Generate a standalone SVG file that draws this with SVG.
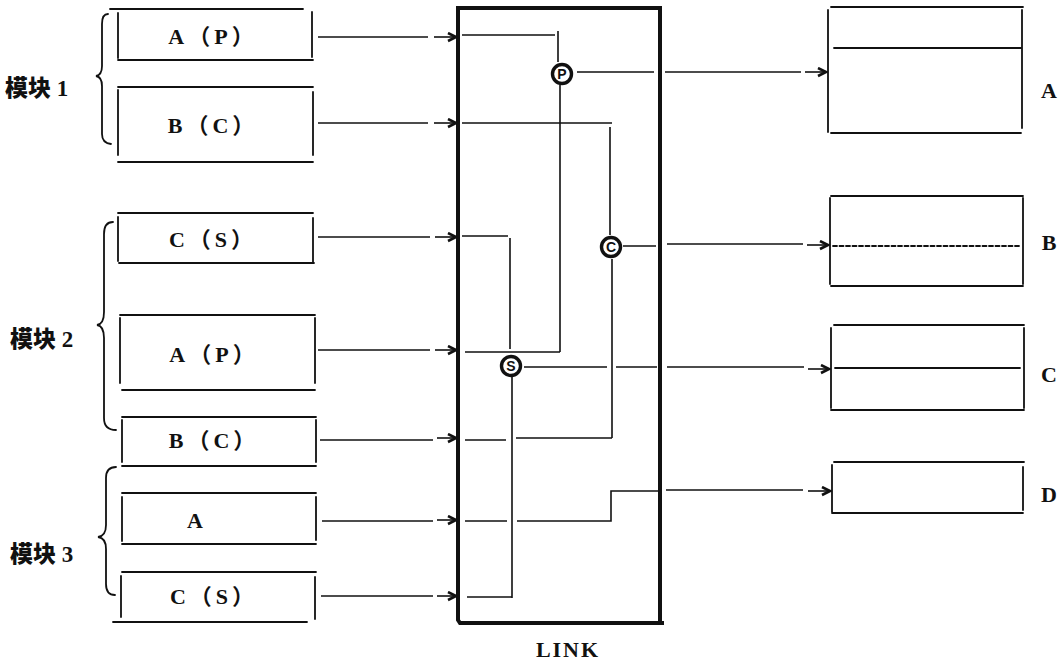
<svg xmlns="http://www.w3.org/2000/svg" width="1063" height="662" viewBox="0 0 1063 662">
<style>
.bx{fill:none;stroke:#111;stroke-width:1.8;stroke-linecap:round}
.ln{fill:none;stroke:#111;stroke-width:1.6}
.ar{fill:none;stroke:#111;stroke-width:1.6;marker-end:url(#ah)}
.lk{fill:none;stroke:#111;stroke-width:4;stroke-linecap:square}
.t{font-family:"Liberation Serif","Noto Sans CJK SC",serif;font-weight:bold;font-size:22px;fill:#111;letter-spacing:4px}
.m{font-family:"Noto Sans CJK SC","Liberation Serif",sans-serif;font-weight:900;font-size:23px;fill:#111}
.d{font-family:"Liberation Serif",serif;font-weight:bold}
.ci{fill:#fff;stroke:#111;stroke-width:3.4}
.ct{font-family:"Liberation Sans",sans-serif;font-weight:bold;font-size:14px;fill:#111;text-anchor:middle}
.r{font-family:"Liberation Serif",serif;font-weight:bold;font-size:22px;fill:#111;text-anchor:middle}
</style>
<defs>
<marker id="ah" markerWidth="12" markerHeight="12" refX="10" refY="5" orient="auto" markerUnits="userSpaceOnUse">
<path d="M2,1 L10,5 L2,9" fill="none" stroke="#111" stroke-width="2.6" stroke-linejoin="miter"/>
</marker>
</defs>

<g id="module1">
<path class="bx" d="M108 14 Q102 14 102 24 V66 Q102 75 96 76 Q102 77 102 86 V134 Q102 143 111 144"/>
<text class="m" x="5" y="96">模块<tspan class="d"> 1</tspan></text>
</g>
<g id="module2">
<path class="bx" d="M113 222 Q104 222 104 234 V312 Q104 324 97 325 Q104 326 104 338 V418 Q104 430 116 430"/>
<text class="m" x="10" y="347">模块<tspan class="d"> 2</tspan></text>
</g>
<g id="module3">
<path class="bx" d="M116 467 Q106 467 106 478 V525 Q106 536 98 537 Q106 538 106 549 V584 Q106 595 115 595"/>
<text class="m" x="10" y="562">模块<tspan class="d"> 3</tspan></text>
</g>

<g id="m1-AP">
<path class="bx" d="M110 9 H303 M118 13 V58 M312 12 V57 M118 60 H313"/>
<text class="t" x="213" y="44" text-anchor="middle">A（P）</text>
</g>
<g id="m1-BC">
<path class="bx" d="M118 87 H313 M118 90 V155 M313 92 V155 M118 162 H313"/>
<text class="t" x="213" y="133" text-anchor="middle">B（C）</text>
</g>
<g id="m2-CS">
<path class="bx" d="M118 213 H313 M118 217 V261 M313 218 V262 M119 263 H314"/>
<text class="t" x="213" y="247" text-anchor="middle">C（S）</text>
</g>
<g id="m2-AP">
<path class="bx" d="M120 315 H315 M120 318 V383 M315 318 V383 M122 390 H315"/>
<text class="t" x="214" y="362" text-anchor="middle">A（P）</text>
</g>
<g id="m2-BC">
<path class="bx" d="M122 417 H316 M122 420 V462 M316 420 V462 M122 466 H316"/>
<text class="t" x="214" y="448" text-anchor="middle">B（C）</text>
</g>
<g id="m3-A">
<path class="bx" d="M122 493 H316 M122 497 V541 M316 497 V540 M122 544 H316"/>
<text class="t" x="197" y="528" text-anchor="middle">A</text>
</g>
<g id="m3-CS">
<path class="bx" d="M122 572 H316 M121 576 V617 M315 577 V619 M113 622 H307"/>
<text class="t" x="214" y="604" text-anchor="middle">C（S）</text>
</g>

<g id="link">
<path class="lk" d="M458 8 H660 V622 M458 8 V620 L460 623 H662"/>
<text class="r" x="568" y="657" font-size="21" letter-spacing="2">LINK</text>
</g>

<g id="out-A">
<path class="bx" d="M831 7 H1023 M828 10 V132 M1022 10 V128 M831 133 H1021"/>
<path class="bx" d="M834 48 H1021"/>
<text class="r" x="1049" y="98">A</text>
</g>
<g id="out-B">
<path class="bx" d="M831 196 H1023 M830 198 V284 M1023 198 V284 M831 286 H1023"/>
<path class="bx" d="M833 246 H1020" stroke-dasharray="4 2.5"/>
<text class="r" x="1049" y="250">B</text>
</g>
<g id="out-C">
<path class="bx" d="M834 325 H1024 M831 328 V408 M1024 328 V408 M831 410 H1024"/>
<path class="bx" d="M835 368 H1020"/>
<text class="r" x="1049" y="382">C</text>
</g>
<g id="out-D">
<path class="bx" d="M834 462 H1024 M832 465 V512 M1023 467 V510 M832 513 H1023"/>
<text class="r" x="1049" y="502">D</text>
</g>

<g id="connectors">
<path class="ln" d="M318 37 H428"/><path class="ar" d="M434 37 H456"/>
<path class="ln" d="M318 123 H428"/><path class="ar" d="M434 123 H456"/>
<path class="ln" d="M318 237 H430"/><path class="ar" d="M435 237 H456"/>
<path class="ln" d="M318 350 H430"/><path class="ar" d="M435 350 H456"/>
<path class="ln" d="M320 440 H433"/><path class="ar" d="M437 438 H456"/>
<path class="ln" d="M322 521 H433"/><path class="ar" d="M437 520 H456"/>
<path class="ln" d="M321 596 H433"/><path class="ar" d="M437 596 H456"/>

<path class="ln" d="M665 72 H801"/><path class="ar" d="M805 72 H826"/>
<path class="ln" d="M667 244 H803"/><path class="ar" d="M807 245 H828"/>
<path class="ln" d="M667 367 H804"/><path class="ar" d="M808 369 H829"/>
<path class="ln" d="M666 490 H803"/><path class="ar" d="M808 491 H830"/>

<path class="ln" d="M462 35 H555 M558 31 V62 M560 85 V352 M465 352 H560 M577 72 H654"/>
<path class="ln" d="M462 123 H612 M610 127 V235 M612 259 V438 M516 438 H612 M465 440 H506 M623 246 H656"/>
<path class="ln" d="M462 236 H508 M510 238 V349 M512 377 V598 M467 597 H512 M524 367 H607 M616 367 H657"/>
<path class="ln" d="M465 521 H507 M517 521 H611 V491 H658"/>

<g id="sw-P"><circle class="ci" cx="562" cy="74" r="9.5"/><text class="ct" x="562" y="79">P</text></g>
<g id="sw-C"><circle class="ci" cx="611" cy="247" r="9.5"/><text class="ct" x="611" y="252">C</text></g>
<g id="sw-S"><circle class="ci" cx="511" cy="366" r="9.5"/><text class="ct" x="511" y="371">S</text></g>
</g>
</svg>
